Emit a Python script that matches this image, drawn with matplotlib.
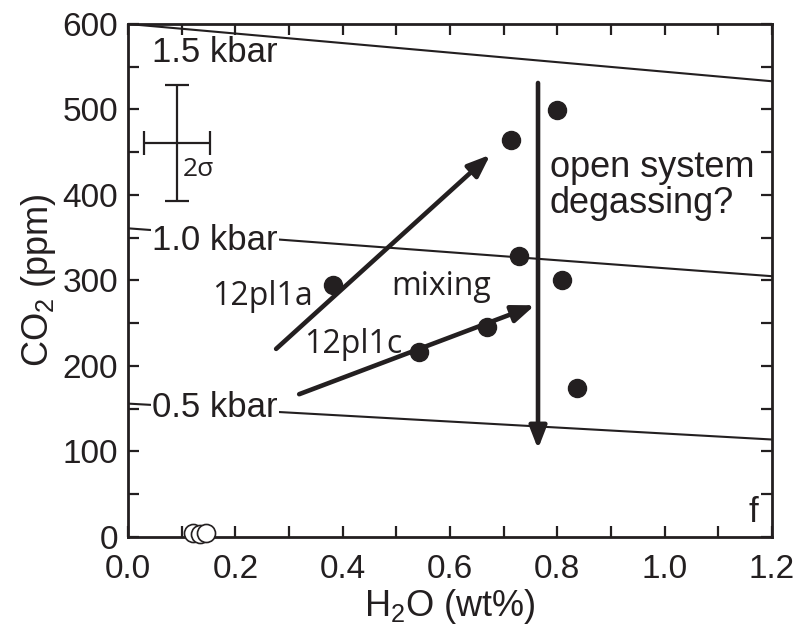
import matplotlib
matplotlib.use("Agg")
import matplotlib.pyplot as plt
from matplotlib.ticker import MultipleLocator

plt.rcParams["font.family"] = ["Liberation Sans", "DejaVu Sans"]
plt.rcParams["mathtext.fontset"] = "custom"
plt.rcParams["mathtext.rm"] = "Liberation Sans"

# melt inclusion data
h2o = [0.382, 0.542, 0.669, 0.729, 0.714, 0.799, 0.809, 0.837]
co2 = [295, 216, 246, 329, 464, 499, 301, 174]

# degassed / open symbols near the origin
h2o_open = [0.121, 0.134, 0.145]
co2_open = [5, 4, 5]

# isobars, end points at x = 0 and x = 1.2
iso_x = [0.0, 1.2]
iso_05 = [156, 114]
iso_10 = [361, 305]
iso_15 = [600, 533]
iso_labels = ["0.5 kbar", "1.0 kbar", "1.5 kbar"]
iso_label_y = [152, 347, 567]

# arrows: (x0, y0, x1, y1)
arrow_a = (0.276, 220, 0.675, 447)
arrow_c = (0.319, 167, 0.758, 271)
arrow_degas = (0.764, 531, 0.764, 103)

# 2 sigma error cross
err_x, err_y = 0.091, 461
err_dx, err_dy = 0.062, 68


def main():
    fig = plt.figure(figsize=(8, 6.26), dpi=100)
    ax = fig.add_axes([0.16, 0.1422, 0.805, 0.8195])
    ink = "#231f20"

    for ys in (iso_05, iso_10, iso_15):
        ax.plot(iso_x, ys, color=ink, lw=1.5, zorder=1)

    box = dict(facecolor="white", edgecolor="none", pad=1)
    ax.text(0.162, iso_label_y[0], iso_labels[0], fontsize=25, ha="center",
            va="center", color=ink, bbox=box, zorder=2)
    ax.text(0.162, iso_label_y[1], iso_labels[1], fontsize=25, ha="center",
            va="center", color=ink, bbox=box, zorder=2)
    ax.text(0.162, iso_label_y[2], iso_labels[2], fontsize=25, ha="center",
            va="center", color=ink, zorder=2)

    for a in (arrow_a, arrow_c, arrow_degas):
        ax.annotate("", xy=(a[2], a[3]), xytext=(a[0], a[1]),
                    arrowprops=dict(arrowstyle="-|>,head_length=0.9,head_width=0.35",
                                    lw=3.3, color=ink, mutation_scale=15,
                                    shrinkA=0, shrinkB=0), zorder=3)

    ax.plot(h2o, co2, "o", ms=13, color=ink, zorder=4)
    ax.plot(h2o_open, co2_open, "o", ms=13, mfc="white", mec=ink,
            mew=1.2, zorder=4, clip_on=False)

    ax.errorbar([err_x], [err_y], xerr=[err_dx], yerr=[err_dy], fmt="none",
                ecolor=ink, elinewidth=1.6, capsize=8.5, capthick=1.6)
    ann = ["Open Sans", "DejaVu Sans"]
    ax.text(0.102, 430, "2σ", fontsize=19, family=ann, va="center", color=ink)

    ax.text(0.250, 271, "12pl1a", fontsize=23, family=ann, ha="center",
            va="baseline", color=ink)
    ax.text(0.420, 215, "12pl1c", fontsize=23, family=ann, ha="center",
            va="baseline", color=ink)
    ax.text(0.583, 283, "mixing", fontsize=23, family=ann, ha="center",
            va="baseline", color=ink)
    ax.text(0.786, 421, "open system", fontsize=26, ha="left", va="baseline",
            color=ink)
    ax.text(0.786, 379, "degassing?", fontsize=26, ha="left", va="baseline",
            color=ink)
    ax.text(1.165, 17, "f", fontsize=25, ha="center", va="baseline", color=ink)

    ax.set_xlim(0, 1.2)
    ax.set_ylim(0, 600)
    ax.xaxis.set_major_locator(MultipleLocator(0.2))
    ax.xaxis.set_minor_locator(MultipleLocator(0.1))
    ax.yaxis.set_major_locator(MultipleLocator(100))
    ax.yaxis.set_minor_locator(MultipleLocator(50))
    ax.set_xticklabels([f"{v:.1f}" for v in ax.get_xticks()])
    ax.tick_params(which="both", direction="in", top=True, right=True,
                   length=8, width=1.6, labelsize=24, colors=ink)
    ax.tick_params(axis="x", pad=12)
    ax.tick_params(axis="y", pad=7)
    for s in ax.spines.values():
        s.set_linewidth(2)
        s.set_color(ink)

    ax.set_xlabel(r"H$_\mathregular{2}$O (wt%)", fontsize=26, labelpad=2,
                  color=ink)
    ax.set_ylabel(r"CO$_\mathregular{2}$ (ppm)", fontsize=26, labelpad=3,
                  color=ink)

    fig.savefig("out.png", dpi=100)


if __name__ == "__main__":
    main()
